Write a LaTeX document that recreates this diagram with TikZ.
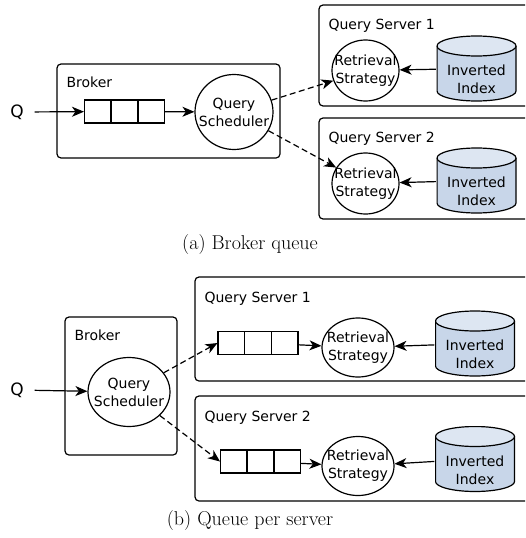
\documentclass[tikz,border=0pt]{standalone}
\usepackage{fontspec}
\setsansfont{DejaVu Sans}
\usetikzlibrary{shapes.geometric,shapes.multipart,arrows.meta}

\definecolor{idxbody}{RGB}{200,214,233}
\definecolor{idxend}{RGB}{221,230,242}

\tikzset{
    lbl/.style = {font=\sffamily\fontsize{14}{18}\selectfont, inner sep=0pt},
    inshape/.style = {lbl, align=center},
    input/.style = {font=\sffamily\fontsize{17}{20}\selectfont, inner sep=0pt, outer xsep=11pt},
    proc/.style = {draw, ellipse, inner sep=0pt},
    index/.style = {minimum width=80pt, minimum height=66pt, inner sep=0pt,
        path picture={
            \fill[idxbody] ([shift={(0.5pt,-10.5pt)}]path picture bounding box.north west)
                -- ([shift={(0.5pt,10.5pt)}]path picture bounding box.south west)
                arc[start angle=180, end angle=360, x radius=39.5pt, y radius=10pt]
                -- ([shift={(-0.5pt,-10.5pt)}]path picture bounding box.north east) -- cycle;
            \draw ([shift={(0.5pt,-10.5pt)}]path picture bounding box.north west)
                -- ([shift={(0.5pt,10.5pt)}]path picture bounding box.south west)
                arc[start angle=180, end angle=360, x radius=39.5pt, y radius=10pt]
                -- ([shift={(-0.5pt,-10.5pt)}]path picture bounding box.north east);
            \draw[fill=idxend] ([yshift=-10.5pt]path picture bounding box.north)
                ellipse [x radius=39.5pt, y radius=10pt];
        }},
    queue/.style = {draw, rectangle split, rectangle split horizontal, rectangle split parts=3,
        rectangle split empty part width=21.5pt, rectangle split empty part height=23pt,
        rectangle split empty part depth=0pt, inner sep=0pt},
    box/.style = {draw, rounded corners=4pt},
    flow/.style = {-{Stealth[length=12pt,width=10pt,inset=3.5pt]}},
    dispatch/.style = {flow, dash pattern=on 6pt off 3.5pt},
    caption/.style = {font=\rmfamily\fontsize{20}{24}\selectfont, inner sep=0pt}
}

\begin{document}
\begin{tikzpicture}[x=1pt, y=-1pt, line width=1.2pt]
    \clip (0, 0) rectangle (525, 538);

    % (a) Broker queue
    \draw[box] (57, 64) rectangle (280, 158);
    \draw[box] (319, 5) rectangle (545, 106);
    \draw[box] (319, 118) rectangle (545, 219);
    \draw
        (66, 87)     node [lbl, anchor=base west] {Broker}
        (328, 29.5)  node [lbl, anchor=base west] {Query Server 1}
        (328, 142.5) node [lbl, anchor=base west] {Query Server 2}
        (17, 112)    node (inA) [input] {Q}
        (124.5, 111.5) node (qA) [queue] {}
        (234, 112)   node (schA) [proc, minimum width=78pt, minimum height=75pt,
                        label={[inshape]center:Query\\Scheduler}] {}
        (365.5, 70.5)  node (rsA1) [proc, minimum width=67pt, minimum height=61pt,
                        label={[inshape]center:Retrieval\\Strategy}] {}
        (365.5, 183.5) node (rsA2) [proc, minimum width=67pt, minimum height=61pt,
                        label={[inshape]center:Retrieval\\Strategy}] {}
        (476.5, 68.5)  node (idxA1) [index, label={[inshape, yshift=-11pt]center:Inverted\\Index}] {}
        (476.5, 180.5) node (idxA2) [index, label={[inshape, yshift=-11pt]center:Inverted\\Index}] {};
    \draw[flow] (inA) -- (qA);
    \draw[flow] (qA) -- (schA);
    \draw[dispatch] (schA) -- (rsA1);
    \draw[dispatch] (schA) -- (rsA2);
    \draw[flow] (idxA1) -- (rsA1);
    \draw[flow] (idxA2) -- (rsA2);
    \node[caption] (capA) at (250, 245) {(a) Broker queue};

    % (b) Queue per server
    \draw[box] (65, 317) rectangle (177, 455);
    \draw[box] (195, 277) rectangle (545, 381);
    \draw[box] (195, 396) rectangle (545, 501);
    \draw
        (74, 340)   node [lbl, anchor=base west] {Broker}
        (204, 302)  node [lbl, anchor=base west] {Query Server 1}
        (204, 421)  node [lbl, anchor=base west] {Query Server 2}
        (17, 390)   node (inB) [input] {Q}
        (129, 392)  node (schB) [proc, minimum width=82pt, minimum height=69pt,
                        label={[inshape]center:Query\\Scheduler}] {}
        (258, 343)    node (qB1) [queue] {}
        (260.5, 461.5) node (qB2) [queue] {}
        (358, 347.5) node (rsB1) [proc, minimum width=72pt, minimum height=59pt,
                        label={[inshape]center:Retrieval\\Strategy}] {}
        (358, 466)   node (rsB2) [proc, minimum width=72pt, minimum height=59pt,
                        label={[inshape]center:Retrieval\\Strategy}] {}
        (475, 343.5) node (idxB1) [index, label={[inshape, yshift=-11pt]center:Inverted\\Index}] {}
        (475, 459)   node (idxB2) [index, label={[inshape, yshift=-11pt]center:Inverted\\Index}] {};
    \draw[flow] (inB) -- (schB);
    \draw[dispatch] (schB) -- (qB1.west);
    \draw[dispatch] (schB) -- (qB2.west);
    \draw[flow] (qB1) -- (rsB1);
    \draw[flow] (qB2) -- (rsB2);
    \draw[flow] (idxB1) -- (rsB1);
    \draw[flow] (idxB2) -- (rsB2);
    \node[caption] (capB) at (250, 521) {(b) Queue per server};
\end{tikzpicture}
\end{document}
